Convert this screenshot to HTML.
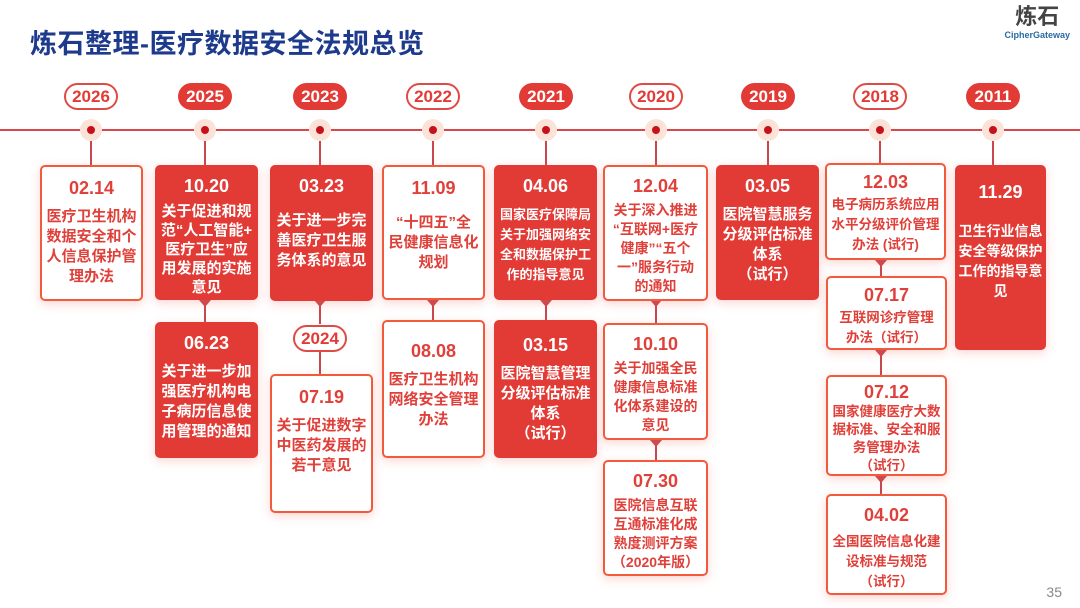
<!DOCTYPE html>
<html><head><meta charset="utf-8"><style>
body{margin:0;width:1080px;height:608px;background:#fff;position:relative;overflow:hidden;font-family:"Liberation Sans","Noto Sans CJK SC",sans-serif;}
.t{position:absolute;left:30px;top:22px;font-size:27px;font-weight:bold;color:#1d3a8c;letter-spacing:0.5px}
.line{position:absolute;left:0;top:129px;width:1080px;height:2px;background:#d9474a}
.pill{position:absolute;width:54px;height:27px;border-radius:14px;font-size:17px;font-weight:bold;text-align:center;line-height:27px;box-sizing:border-box}
.pr{background:#e23a35;color:#fff}
.pw{background:#fff;color:#e23a35;border:2px solid #e04a44;line-height:23px}
.dot{position:absolute;top:119px;width:22px;height:22px;border-radius:50%;background:#fbe3d8}
.dot:after{content:"";position:absolute;left:7px;top:7px;width:8px;height:8px;border-radius:50%;background:#c8101a}
.v{position:absolute;width:2px;background:#c9474f}
.b{position:absolute;box-sizing:border-box;border-radius:5px;text-align:center;font-weight:bold;font-size:15px;line-height:20px;padding:10px 0 0;white-space:nowrap;box-shadow:0 3px 10px rgba(240,90,80,.25)}
.b .d{font-size:18px;line-height:22px;margin-bottom:8px}
.r{background:#e23a35;color:#fff}
.w{background:#fff;color:#e0403a;border:2px solid #f25a3c}
.s{font-size:14px}
.xs{font-size:13.5px}
.tri{position:absolute;width:0;height:0;border-left:6px solid transparent;border-right:6px solid transparent;border-top:7px solid #c9474f}
</style></head><body>
<div class="t">炼石整理-医疗数据安全法规总览</div>
<div style="position:absolute;right:10px;top:4px;text-align:center;color:#444;font-weight:bold">
<div style="font-size:22px;line-height:26px">炼石</div>
<div style="font-size:9px;color:#2a6aa0;line-height:10px">CipherGateway</div></div>
<div style="position:absolute;right:18px;top:584px;font-size:14px;color:#888">35</div>
<div class="line"></div>

<div class="pill pw" style="left:64px;top:83px">2026</div>
<div class="pill pr" style="left:178px;top:83px">2025</div>
<div class="pill pr" style="left:293px;top:83px">2023</div>
<div class="pill pw" style="left:406px;top:83px">2022</div>
<div class="pill pr" style="left:519px;top:83px">2021</div>
<div class="pill pw" style="left:629px;top:83px">2020</div>
<div class="pill pr" style="left:741px;top:83px">2019</div>
<div class="pill pw" style="left:853px;top:83px">2018</div>
<div class="pill pr" style="left:966px;top:83px">2011</div>

<div class="dot" style="left:80px"></div><div class="v" style="left:90px;top:141px;height:24px"></div>
<div class="dot" style="left:194px"></div><div class="v" style="left:204px;top:141px;height:24px"></div>
<div class="dot" style="left:309px"></div><div class="v" style="left:319px;top:141px;height:24px"></div>
<div class="dot" style="left:422px"></div><div class="v" style="left:432px;top:141px;height:24px"></div>
<div class="dot" style="left:535px"></div><div class="v" style="left:545px;top:141px;height:24px"></div>
<div class="dot" style="left:645px"></div><div class="v" style="left:655px;top:141px;height:24px"></div>
<div class="dot" style="left:757px"></div><div class="v" style="left:767px;top:141px;height:24px"></div>
<div class="dot" style="left:869px"></div><div class="v" style="left:879px;top:141px;height:22px"></div>
<div class="dot" style="left:982px"></div><div class="v" style="left:992px;top:141px;height:24px"></div>

<div class="v" style="left:204px;top:300px;height:22px"></div><div class="tri" style="left:199px;top:300px"></div>
<div class="v" style="left:319px;top:300px;height:24px"></div><div class="tri" style="left:314px;top:300px"></div>
<div class="v" style="left:319px;top:352px;height:22px"></div>
<div class="v" style="left:432px;top:300px;height:20px"></div><div class="tri" style="left:427px;top:300px"></div>
<div class="v" style="left:545px;top:300px;height:20px"></div><div class="tri" style="left:540px;top:300px"></div>
<div class="v" style="left:655px;top:300px;height:23px"></div><div class="tri" style="left:650px;top:300px"></div>
<div class="v" style="left:655px;top:440px;height:20px"></div><div class="tri" style="left:650px;top:440px"></div>
<div class="v" style="left:880px;top:260px;height:16px"></div><div class="tri" style="left:875px;top:260px"></div>
<div class="v" style="left:880px;top:350px;height:25px"></div><div class="tri" style="left:875px;top:350px"></div>
<div class="v" style="left:880px;top:476px;height:18px"></div><div class="tri" style="left:875px;top:476px"></div>

<div class="b w" style="left:40px;top:165px;width:103px;height:136px"><div class="d">02.14</div>医疗卫生机构<br>数据安全和个<br>人信息保护管<br>理办法</div>
<div class="b r" style="left:155px;top:165px;width:103px;height:135px;line-height:19px"><div class="d" style="margin-bottom:5px">10.20</div>关于促进和规<br>范“人工智能+<br>医疗卫生”应<br>用发展的实施<br>意见</div>
<div class="b r" style="left:155px;top:322px;width:103px;height:136px"><div class="d">06.23</div>关于进一步加<br>强医疗机构电<br>子病历信息使<br>用管理的通知</div>
<div class="b r" style="left:270px;top:165px;width:103px;height:136px"><div class="d" style="margin-bottom:14px">03.23</div>关于进一步完<br>善医疗卫生服<br>务体系的意见</div>
<div class="pill pw" style="left:293px;top:325px">2024</div>
<div class="b w" style="left:270px;top:374px;width:103px;height:139px"><div class="d">07.19</div>关于促进数字<br>中医药发展的<br>若干意见</div>
<div class="b w" style="left:382px;top:165px;width:103px;height:135px"><div class="d" style="margin-bottom:14px">11.09</div>“十四五”全<br>民健康信息化<br>规划</div>
<div class="b w" style="left:382px;top:320px;width:103px;height:138px"><div class="d" style="margin-top:8px">08.08</div>医疗卫生机构<br>网络安全管理<br>办法</div>
<div class="b r" style="left:494px;top:165px;width:103px;height:135px;font-size:13px"><div class="d">04.06</div>国家医疗保障局<br>关于加强网络安<br>全和数据保护工<br>作的指导意见</div>
<div class="b r" style="left:494px;top:320px;width:103px;height:138px"><div class="d" style="margin-top:4px">03.15</div>医院智慧管理<br>分级评估标准<br>体系<br>（试行）</div>
<div class="b w s" style="left:603px;top:165px;width:105px;height:136px;line-height:19px;padding-top:8px"><div class="d" style="margin-bottom:4px">12.04</div>关于深入推进<br>“互联网+医疗<br>健康”“五个<br>一”服务行动<br>的通知</div>
<div class="b w s" style="left:603px;top:323px;width:105px;height:117px;padding-top:8px;line-height:19px"><div class="d" style="margin-bottom:4px">10.10</div>关于加强全民<br>健康信息标准<br>化体系建设的<br>意见</div>
<div class="b w s" style="left:603px;top:460px;width:105px;height:116px;padding-top:8px;line-height:19px"><div class="d" style="margin-bottom:4px">07.30</div>医院信息互联<br>互通标准化成<br>熟度测评方案<br>（2020年版）</div>
<div class="b r" style="left:716px;top:165px;width:103px;height:135px"><div class="d">03.05</div>医院智慧服务<br>分级评估标准<br>体系<br>（试行）</div>
<div class="b w xs" style="left:825px;top:163px;width:121px;height:97px;padding-top:6px"><div class="d" style="margin-bottom:2px">12.03</div>电子病历系统应用<br>水平分级评价管理<br>办法 (试行)</div>
<div class="b w xs" style="left:826px;top:276px;width:121px;height:74px;padding-top:6px"><div class="d" style="margin-bottom:2px">07.17</div>互联网诊疗管理<br>办法（试行）</div>
<div class="b w xs" style="left:826px;top:375px;width:121px;height:101px;padding-top:4px;line-height:18px"><div class="d" style="margin-bottom:0">07.12</div>国家健康医疗大数<br>据标准、安全和服<br>务管理办法<br>（试行）</div>
<div class="b w xs" style="left:826px;top:494px;width:121px;height:101px;padding-top:8px"><div class="d" style="margin-bottom:6px">04.02</div>全国医院信息化建<br>设标准与规范<br>（试行）</div>
<div class="b r s" style="left:955px;top:165px;width:91px;height:185px;padding-top:16px"><div class="d" style="margin-bottom:18px">11.29</div>卫生行业信息<br>安全等级保护<br>工作的指导意<br>见</div>
</body></html>
